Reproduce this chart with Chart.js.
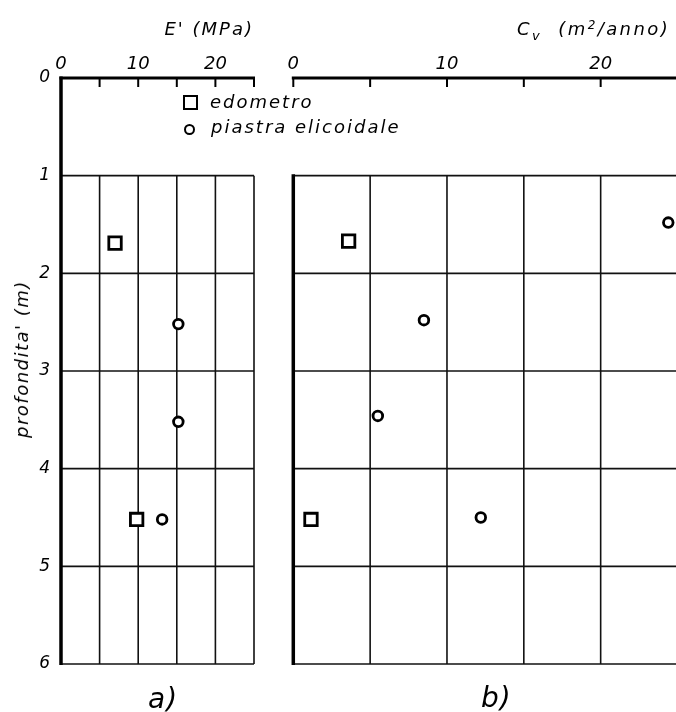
<!DOCTYPE html>
<html>
<head>
<meta charset="utf-8">
<script src="https://cdn.jsdelivr.net/npm/chart.js@4/dist/chart.umd.min.js"></script>
<style>
html,body{margin:0;padding:0;background:#fff;overflow:hidden;}
#wrap{position:relative;width:676px;height:712px;overflow:hidden;background:#fff;}
#wrap canvas{position:absolute;top:0;}
.t{position:absolute;font-family:"DejaVu Sans",sans-serif;font-style:oblique;color:#000;white-space:pre;line-height:1;font-size:18px;letter-spacing:2px;}
.sym{position:absolute;box-sizing:border-box;border:2.8px solid #000;background:#fff;}
</style>
</head>
<body>
<div id="wrap">
  <canvas id="chartE" width="270" height="712" style="left:0px"></canvas>
  <canvas id="chartCv" width="420" height="712" style="left:270px"></canvas>

  <div class="t" style="right:422px;top:19.8px;">E' (MPa)</div>
  <div class="t" style="left:517px;top:19.8px;letter-spacing:2.4px;">C<span style="font-size:13px;position:relative;top:5px;">v</span>  (m<span style="font-size:12px;position:relative;top:-6px;">2</span>/anno)</div>

  <div class="sym" style="left:183px;top:95px;width:15px;height:15px;"></div>
  <div class="t" style="left:210px;top:92.8px;">edometro</div>
  <div class="sym" style="left:184px;top:123.5px;width:11px;height:11px;border-radius:50%;"></div>
  <div class="t" style="left:211px;top:117.8px;">piastra elicoidale</div>

  <div class="t" style="left:21.8px;top:358.5px;letter-spacing:1.5px;transform:translate(-50%,-50%) rotate(-90deg);">profondita' (m)</div>

  <div class="t" style="left:148px;top:685px;font-size:28px;letter-spacing:1px;">a)</div>
  <div class="t" style="left:481px;top:684px;font-size:28px;letter-spacing:1px;">b)</div>
</div>
<script>
// ---- data ----
const depthTicks = [0, 1, 2, 3, 4, 5, 6];
const eTickLabels = ['0', '10', '20'];
const cvTickLabels = ['0', '10', '20'];
const seriesNames = ['edometro', 'piastra elicoidale'];

const eEdometroVal = [7.0, 9.8];
const eEdometroDepth = [1.69, 4.52];
const ePiastraVal = [15.2, 15.2, 13.1];
const ePiastraDepth = [2.52, 3.52, 4.52];

const cvEdometroVal = [3.6, 1.15];
const cvEdometroDepth = [1.67, 4.52];
const cvPiastraVal = [24.4, 8.5, 5.5, 12.2];
const cvPiastraDepth = [1.48, 2.48, 3.46, 4.5];

const xMax = 25, xStep = 5, depthMax = 6, gridFrom = 1;

function pts(xs, ys) { return xs.map((v, i) => ({ x: v, y: ys[i] })); }

const tickFont = { family: 'DejaVu Sans', style: 'italic', size: 18 };

function framePlugin(opt) {
  return {
    id: 'frame' + opt.name,
    beforeDatasetsDraw(chart) {
      const ctx = chart.ctx, xs = chart.scales.x, ys = chart.scales.y;
      const X = v => xs.getPixelForValue(v), Y = v => ys.getPixelForValue(v);
      const line = (x1, y1, x2, y2) => { ctx.beginPath(); ctx.moveTo(x1, y1); ctx.lineTo(x2, y2); ctx.stroke(); };
      ctx.save();
      ctx.strokeStyle = '#111';
      ctx.lineCap = 'butt';
      ctx.lineWidth = 1.6;
      depthTicks.filter(d => d >= gridFrom).forEach(d => line(X(0), Y(d), X(xMax), Y(d)));
      for (let v = xStep; v <= xMax; v += xStep) line(X(v), Y(gridFrom), X(v), Y(depthMax));
      ctx.strokeStyle = '#000';
      ctx.lineWidth = 2;
      for (let v = 0; v <= opt.tickMax; v += xStep) line(X(v), Y(0), X(v), Y(0) + 9);
      ctx.lineWidth = 3;
      line(X(0) - 1.5, Y(0), X(xMax) + 1, Y(0));
      ctx.lineWidth = 3.5;
      line(X(0), Y(opt.leftFrom) - 1.5, X(0), Y(depthMax) + 1);
      ctx.restore();
    }
  };
}

function makeChart(id, opt) {
  const labelsShown = opt.labels;
  return new Chart(document.getElementById(id), {
    type: 'scatter',
    data: {
      datasets: [
        { label: seriesNames[0], data: pts(opt.edoVal, opt.edoDepth), pointStyle: 'rect', pointRadius: 8.8, pointHoverRadius: 8.8,
          borderWidth: 2.8, borderColor: '#000', backgroundColor: '#fff', clip: false },
        { label: seriesNames[1], data: pts(opt.piaVal, opt.piaDepth), pointStyle: 'circle', pointRadius: 4.8, pointHoverRadius: 4.8,
          borderWidth: 2.8, borderColor: '#000', backgroundColor: '#fff', clip: false }
      ]
    },
    options: {
      responsive: false,
      animation: false,
      devicePixelRatio: 1,
      layout: { padding: opt.padding },
      plugins: { legend: { display: false }, tooltip: { enabled: false } },
      scales: {
        x: {
          type: 'linear', position: 'top', min: 0, max: xMax,
          afterFit: s => { s.height = 78; },
          grid: { display: false, drawTicks: false },
          border: { display: false },
          ticks: {
            stepSize: xStep, autoSkip: false, maxRotation: 0, padding: 3, color: '#000', font: tickFont,
            callback: v => labelsShown.includes(String(v)) ? String(v) : ''
          }
        },
        y: {
          type: 'linear', position: 'left', reverse: true, min: 0, max: depthMax,
          display: opt.showY,
          afterFit: s => { s.width = opt.showY ? 61 : 0; },
          grid: { display: false, drawTicks: false },
          border: { display: false },
          ticks: {
            stepSize: 1, autoSkip: false, padding: 11, color: '#000',
            font: { family: 'DejaVu Sans', style: 'italic', size: 17 },
            callback: v => depthTicks.includes(v) ? String(v) : ''
          }
        }
      }
    },
    plugins: [framePlugin(opt)]
  });
}

makeChart('chartE', {
  name: 'E', labels: eTickLabels, edoVal: eEdometroVal, edoDepth: eEdometroDepth,
  piaVal: ePiastraVal, piaDepth: ePiastraDepth,
  padding: { left: 0, right: 16, top: 0, bottom: 48 },
  showY: true, tickMax: 25, leftFrom: 0
});

makeChart('chartCv', {
  name: 'Cv', labels: cvTickLabels, edoVal: cvEdometroVal, edoDepth: cvEdometroDepth,
  piaVal: cvPiastraVal, piaDepth: cvPiastraDepth,
  padding: { left: 23.3, right: 12.5, top: 0, bottom: 48 },
  showY: false, tickMax: 20, leftFrom: 1
});
</script>
</body>
</html>
